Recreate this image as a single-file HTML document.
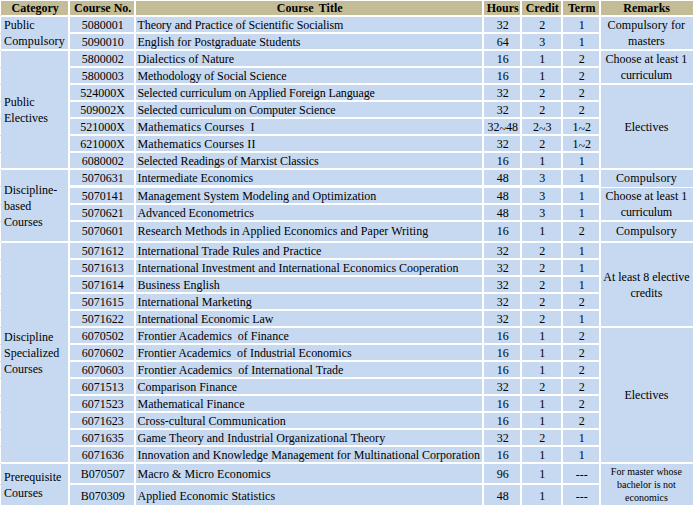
<!DOCTYPE html>
<html><head><meta charset="utf-8"><title>Courses</title>
<style>
html,body{margin:0;padding:0;background:#fff;}
body{width:693px;height:506px;position:relative;overflow:hidden;font-family:"Liberation Serif",serif;font-size:12px;color:#000;}
.c{position:absolute;display:flex;align-items:center;box-sizing:border-box;line-height:16px;white-space:nowrap;overflow:visible;}
.c.ctr{justify-content:center;text-align:center;padding-left:1.4px;}
.c.l{justify-content:flex-start;text-align:left;padding-left:1.5px;}
.c.cat{padding-left:3px;}
.c.h{justify-content:center;font-weight:bold;font-size:12px;padding-left:1.4px;padding-top:1.4px;}
.c.rem{padding-left:0;padding-right:1.2px;}
.c i{font-style:normal;position:relative;top:2px;}
.c b{font-weight:normal;position:relative;top:1.5px;}
.c.small{font-size:10px;line-height:13px;padding-top:0.4px;}
</style></head><body>
<div class="c h" style="left:1px;top:1px;width:67px;height:13.5px;background:#c4bc96;"><span>Category</span></div>
<div class="c h" style="left:70px;top:1px;width:64px;height:13.5px;background:#c4bc96;"><span>Course No.</span></div>
<div class="c h" style="left:136px;top:1px;width:346px;height:13.5px;background:#c4bc96;word-spacing:2.5px"><span>Course Title</span></div>
<div class="c h" style="left:484px;top:1px;width:36px;height:13.5px;background:#c4bc96;"><span>Hours</span></div>
<div class="c h" style="left:522px;top:1px;width:39px;height:13.5px;background:#c4bc96;"><span>Credit</span></div>
<div class="c h" style="left:563px;top:1px;width:36px;height:13.5px;background:#c4bc96;"><span>Term</span></div>
<div class="c h" style="left:601px;top:1px;width:92px;height:13.5px;background:#c4bc96;padding-left:0;padding-right:0.6px"><span>Remarks</span></div>
<div class="c ctr" style="left:70px;top:17px;width:64px;height:15px;background:#c6d9f1;"><span>5080001</span></div>
<div class="c l" style="left:136px;top:17px;width:346px;height:15px;background:#c6d9f1;letter-spacing:-0.071px"><span>Theory and Practice of Scientific Socialism</span></div>
<div class="c ctr" style="left:484px;top:17px;width:36px;height:15px;background:#c6d9f1;"><span>32</span></div>
<div class="c ctr" style="left:522px;top:17px;width:39px;height:15px;background:#c6d9f1;"><span>2</span></div>
<div class="c ctr" style="left:563px;top:17px;width:36px;height:15px;background:#c6d9f1;"><span>1</span></div>
<div class="c ctr" style="left:70px;top:34px;width:64px;height:15px;background:#c6d9f1;"><span>5090010</span></div>
<div class="c l" style="left:136px;top:34px;width:346px;height:15px;background:#c6d9f1;"><span>English for Postgraduate Students</span></div>
<div class="c ctr" style="left:484px;top:34px;width:36px;height:15px;background:#c6d9f1;"><span>64</span></div>
<div class="c ctr" style="left:522px;top:34px;width:39px;height:15px;background:#c6d9f1;"><span>3</span></div>
<div class="c ctr" style="left:563px;top:34px;width:36px;height:15px;background:#c6d9f1;"><span>1</span></div>
<div class="c ctr" style="left:70px;top:51px;width:64px;height:15px;background:#c6d9f1;"><span>5800002</span></div>
<div class="c l" style="left:136px;top:51px;width:346px;height:15px;background:#c6d9f1;"><span>Dialectics of Nature</span></div>
<div class="c ctr" style="left:484px;top:51px;width:36px;height:15px;background:#c6d9f1;"><span>16</span></div>
<div class="c ctr" style="left:522px;top:51px;width:39px;height:15px;background:#c6d9f1;"><span>1</span></div>
<div class="c ctr" style="left:563px;top:51px;width:36px;height:15px;background:#c6d9f1;"><span>2</span></div>
<div class="c ctr" style="left:70px;top:68px;width:64px;height:15px;background:#c6d9f1;"><span>5800003</span></div>
<div class="c l" style="left:136px;top:68px;width:346px;height:15px;background:#c6d9f1;letter-spacing:-0.071px"><span>Methodology of Social Science</span></div>
<div class="c ctr" style="left:484px;top:68px;width:36px;height:15px;background:#c6d9f1;"><span>16</span></div>
<div class="c ctr" style="left:522px;top:68px;width:39px;height:15px;background:#c6d9f1;"><span>1</span></div>
<div class="c ctr" style="left:563px;top:68px;width:36px;height:15px;background:#c6d9f1;"><span>2</span></div>
<div class="c ctr" style="left:70px;top:85px;width:64px;height:15px;background:#c6d9f1;"><span>524000X</span></div>
<div class="c l" style="left:136px;top:85px;width:346px;height:15px;background:#c6d9f1;letter-spacing:-0.120px"><span>Selected curriculum on Applied Foreign Language</span></div>
<div class="c ctr" style="left:484px;top:85px;width:36px;height:15px;background:#c6d9f1;"><span>32</span></div>
<div class="c ctr" style="left:522px;top:85px;width:39px;height:15px;background:#c6d9f1;"><span>2</span></div>
<div class="c ctr" style="left:563px;top:85px;width:36px;height:15px;background:#c6d9f1;"><span>2</span></div>
<div class="c ctr" style="left:70px;top:102px;width:64px;height:15px;background:#c6d9f1;"><span>509002X</span></div>
<div class="c l" style="left:136px;top:102px;width:346px;height:15px;background:#c6d9f1;letter-spacing:-0.116px"><span>Selected curriculum on Computer Science</span></div>
<div class="c ctr" style="left:484px;top:102px;width:36px;height:15px;background:#c6d9f1;"><span>32</span></div>
<div class="c ctr" style="left:522px;top:102px;width:39px;height:15px;background:#c6d9f1;"><span>2</span></div>
<div class="c ctr" style="left:563px;top:102px;width:36px;height:15px;background:#c6d9f1;"><span>2</span></div>
<div class="c ctr" style="left:70px;top:119px;width:64px;height:15px;background:#c6d9f1;"><span>521000X</span></div>
<div class="c l" style="left:136px;top:119px;width:346px;height:15px;background:#c6d9f1;letter-spacing:0.162px"><span>Mathematics Courses&nbsp; I</span></div>
<div class="c ctr" style="left:484px;top:119px;width:36px;height:15px;background:#c6d9f1;"><span>32<i>~</i>48</span></div>
<div class="c ctr" style="left:522px;top:119px;width:39px;height:15px;background:#c6d9f1;"><span>2<i>~</i>3</span></div>
<div class="c ctr" style="left:563px;top:119px;width:36px;height:15px;background:#c6d9f1;"><span>1<i>~</i>2</span></div>
<div class="c ctr" style="left:70px;top:136px;width:64px;height:15px;background:#c6d9f1;"><span>621000X</span></div>
<div class="c l" style="left:136px;top:136px;width:346px;height:15px;background:#c6d9f1;letter-spacing:0.157px"><span>Mathematics Courses II</span></div>
<div class="c ctr" style="left:484px;top:136px;width:36px;height:15px;background:#c6d9f1;"><span>32</span></div>
<div class="c ctr" style="left:522px;top:136px;width:39px;height:15px;background:#c6d9f1;"><span>2</span></div>
<div class="c ctr" style="left:563px;top:136px;width:36px;height:15px;background:#c6d9f1;"><span>1<i>~</i>2</span></div>
<div class="c ctr" style="left:70px;top:153px;width:64px;height:15px;background:#c6d9f1;"><span>6080002</span></div>
<div class="c l" style="left:136px;top:153px;width:346px;height:15px;background:#c6d9f1;letter-spacing:-0.075px"><span>Selected Readings of Marxist Classics</span></div>
<div class="c ctr" style="left:484px;top:153px;width:36px;height:15px;background:#c6d9f1;"><span>16</span></div>
<div class="c ctr" style="left:522px;top:153px;width:39px;height:15px;background:#c6d9f1;"><span>1</span></div>
<div class="c ctr" style="left:563px;top:153px;width:36px;height:15px;background:#c6d9f1;"><span>1</span></div>
<div class="c ctr" style="left:70px;top:170.2px;width:64px;height:15.300000000000011px;background:#c6d9f1;"><span>5070631</span></div>
<div class="c l" style="left:136px;top:170.2px;width:346px;height:15.300000000000011px;background:#c6d9f1;letter-spacing:-0.057px"><span>Intermediate Economics</span></div>
<div class="c ctr" style="left:484px;top:170.2px;width:36px;height:15.300000000000011px;background:#c6d9f1;"><span>48</span></div>
<div class="c ctr" style="left:522px;top:170.2px;width:39px;height:15.300000000000011px;background:#c6d9f1;"><span>3</span></div>
<div class="c ctr" style="left:563px;top:170.2px;width:36px;height:15.300000000000011px;background:#c6d9f1;"><span>1</span></div>
<div class="c ctr" style="left:70px;top:188px;width:64px;height:15px;background:#c6d9f1;"><span>5070141</span></div>
<div class="c l" style="left:136px;top:188px;width:346px;height:15px;background:#c6d9f1;letter-spacing:0.036px"><span>Management System Modeling and Optimization</span></div>
<div class="c ctr" style="left:484px;top:188px;width:36px;height:15px;background:#c6d9f1;"><span>48</span></div>
<div class="c ctr" style="left:522px;top:188px;width:39px;height:15px;background:#c6d9f1;"><span>3</span></div>
<div class="c ctr" style="left:563px;top:188px;width:36px;height:15px;background:#c6d9f1;"><span>1</span></div>
<div class="c ctr" style="left:70px;top:205px;width:64px;height:15px;background:#c6d9f1;"><span>5070621</span></div>
<div class="c l" style="left:136px;top:205px;width:346px;height:15px;background:#c6d9f1;letter-spacing:-0.065px"><span>Advanced Econometrics</span></div>
<div class="c ctr" style="left:484px;top:205px;width:36px;height:15px;background:#c6d9f1;"><span>48</span></div>
<div class="c ctr" style="left:522px;top:205px;width:39px;height:15px;background:#c6d9f1;"><span>3</span></div>
<div class="c ctr" style="left:563px;top:205px;width:36px;height:15px;background:#c6d9f1;"><span>1</span></div>
<div class="c ctr" style="left:70px;top:222px;width:64px;height:18.5px;background:#c6d9f1;"><span>5070601</span></div>
<div class="c l" style="left:136px;top:222px;width:346px;height:18.5px;background:#c6d9f1;letter-spacing:0.033px"><span>Research Methods in Applied Economics and Paper Writing</span></div>
<div class="c ctr" style="left:484px;top:222px;width:36px;height:18.5px;background:#c6d9f1;"><span>16</span></div>
<div class="c ctr" style="left:522px;top:222px;width:39px;height:18.5px;background:#c6d9f1;"><span>1</span></div>
<div class="c ctr" style="left:563px;top:222px;width:36px;height:18.5px;background:#c6d9f1;"><span>2</span></div>
<div class="c ctr" style="left:70px;top:243px;width:64px;height:15px;background:#c6d9f1;"><span>5071612</span></div>
<div class="c l" style="left:136px;top:243px;width:346px;height:15px;background:#c6d9f1;"><span>International Trade Rules and Practice</span></div>
<div class="c ctr" style="left:484px;top:243px;width:36px;height:15px;background:#c6d9f1;"><span>32</span></div>
<div class="c ctr" style="left:522px;top:243px;width:39px;height:15px;background:#c6d9f1;"><span>2</span></div>
<div class="c ctr" style="left:563px;top:243px;width:36px;height:15px;background:#c6d9f1;"><span>1</span></div>
<div class="c ctr" style="left:70px;top:260px;width:64px;height:15px;background:#c6d9f1;"><span>5071613</span></div>
<div class="c l" style="left:136px;top:260px;width:346px;height:15px;background:#c6d9f1;"><span>International Investment and International Economics Cooperation</span></div>
<div class="c ctr" style="left:484px;top:260px;width:36px;height:15px;background:#c6d9f1;"><span>32</span></div>
<div class="c ctr" style="left:522px;top:260px;width:39px;height:15px;background:#c6d9f1;"><span>2</span></div>
<div class="c ctr" style="left:563px;top:260px;width:36px;height:15px;background:#c6d9f1;"><span>1</span></div>
<div class="c ctr" style="left:70px;top:277px;width:64px;height:15px;background:#c6d9f1;"><span>5071614</span></div>
<div class="c l" style="left:136px;top:277px;width:346px;height:15px;background:#c6d9f1;"><span>Business English</span></div>
<div class="c ctr" style="left:484px;top:277px;width:36px;height:15px;background:#c6d9f1;"><span>32</span></div>
<div class="c ctr" style="left:522px;top:277px;width:39px;height:15px;background:#c6d9f1;"><span>2</span></div>
<div class="c ctr" style="left:563px;top:277px;width:36px;height:15px;background:#c6d9f1;"><span>1</span></div>
<div class="c ctr" style="left:70px;top:294px;width:64px;height:15px;background:#c6d9f1;"><span>5071615</span></div>
<div class="c l" style="left:136px;top:294px;width:346px;height:15px;background:#c6d9f1;"><span>International Marketing</span></div>
<div class="c ctr" style="left:484px;top:294px;width:36px;height:15px;background:#c6d9f1;"><span>32</span></div>
<div class="c ctr" style="left:522px;top:294px;width:39px;height:15px;background:#c6d9f1;"><span>2</span></div>
<div class="c ctr" style="left:563px;top:294px;width:36px;height:15px;background:#c6d9f1;"><span>2</span></div>
<div class="c ctr" style="left:70px;top:311px;width:64px;height:15px;background:#c6d9f1;"><span>5071622</span></div>
<div class="c l" style="left:136px;top:311px;width:346px;height:15px;background:#c6d9f1;letter-spacing:-0.052px"><span>International Economic Law</span></div>
<div class="c ctr" style="left:484px;top:311px;width:36px;height:15px;background:#c6d9f1;"><span>32</span></div>
<div class="c ctr" style="left:522px;top:311px;width:39px;height:15px;background:#c6d9f1;"><span>2</span></div>
<div class="c ctr" style="left:563px;top:311px;width:36px;height:15px;background:#c6d9f1;"><span>1</span></div>
<div class="c ctr" style="left:70px;top:328px;width:64px;height:15px;background:#c6d9f1;"><span>6070502</span></div>
<div class="c l" style="left:136px;top:328px;width:346px;height:15px;background:#c6d9f1;"><span>Frontier Academics&nbsp; of Finance</span></div>
<div class="c ctr" style="left:484px;top:328px;width:36px;height:15px;background:#c6d9f1;"><span>16</span></div>
<div class="c ctr" style="left:522px;top:328px;width:39px;height:15px;background:#c6d9f1;"><span>1</span></div>
<div class="c ctr" style="left:563px;top:328px;width:36px;height:15px;background:#c6d9f1;"><span>2</span></div>
<div class="c ctr" style="left:70px;top:345px;width:64px;height:15px;background:#c6d9f1;"><span>6070602</span></div>
<div class="c l" style="left:136px;top:345px;width:346px;height:15px;background:#c6d9f1;letter-spacing:-0.036px"><span>Frontier Academics&nbsp; of Industrial Economics</span></div>
<div class="c ctr" style="left:484px;top:345px;width:36px;height:15px;background:#c6d9f1;"><span>16</span></div>
<div class="c ctr" style="left:522px;top:345px;width:39px;height:15px;background:#c6d9f1;"><span>1</span></div>
<div class="c ctr" style="left:563px;top:345px;width:36px;height:15px;background:#c6d9f1;"><span>2</span></div>
<div class="c ctr" style="left:70px;top:362px;width:64px;height:15px;background:#c6d9f1;"><span>6070603</span></div>
<div class="c l" style="left:136px;top:362px;width:346px;height:15px;background:#c6d9f1;letter-spacing:0.022px"><span>Frontier Academics&nbsp; of International Trade</span></div>
<div class="c ctr" style="left:484px;top:362px;width:36px;height:15px;background:#c6d9f1;"><span>16</span></div>
<div class="c ctr" style="left:522px;top:362px;width:39px;height:15px;background:#c6d9f1;"><span>1</span></div>
<div class="c ctr" style="left:563px;top:362px;width:36px;height:15px;background:#c6d9f1;"><span>2</span></div>
<div class="c ctr" style="left:70px;top:379px;width:64px;height:15px;background:#c6d9f1;"><span>6071513</span></div>
<div class="c l" style="left:136px;top:379px;width:346px;height:15px;background:#c6d9f1;"><span>Comparison Finance</span></div>
<div class="c ctr" style="left:484px;top:379px;width:36px;height:15px;background:#c6d9f1;"><span>32</span></div>
<div class="c ctr" style="left:522px;top:379px;width:39px;height:15px;background:#c6d9f1;"><span>2</span></div>
<div class="c ctr" style="left:563px;top:379px;width:36px;height:15px;background:#c6d9f1;"><span>2</span></div>
<div class="c ctr" style="left:70px;top:396px;width:64px;height:15px;background:#c6d9f1;"><span>6071523</span></div>
<div class="c l" style="left:136px;top:396px;width:346px;height:15px;background:#c6d9f1;"><span>Mathematical Finance</span></div>
<div class="c ctr" style="left:484px;top:396px;width:36px;height:15px;background:#c6d9f1;"><span>16</span></div>
<div class="c ctr" style="left:522px;top:396px;width:39px;height:15px;background:#c6d9f1;"><span>1</span></div>
<div class="c ctr" style="left:563px;top:396px;width:36px;height:15px;background:#c6d9f1;"><span>2</span></div>
<div class="c ctr" style="left:70px;top:413px;width:64px;height:15px;background:#c6d9f1;"><span>6071623</span></div>
<div class="c l" style="left:136px;top:413px;width:346px;height:15px;background:#c6d9f1;"><span>Cross-cultural Communication</span></div>
<div class="c ctr" style="left:484px;top:413px;width:36px;height:15px;background:#c6d9f1;"><span>16</span></div>
<div class="c ctr" style="left:522px;top:413px;width:39px;height:15px;background:#c6d9f1;"><span>1</span></div>
<div class="c ctr" style="left:563px;top:413px;width:36px;height:15px;background:#c6d9f1;"><span>2</span></div>
<div class="c ctr" style="left:70px;top:430px;width:64px;height:15px;background:#c6d9f1;"><span>6071635</span></div>
<div class="c l" style="left:136px;top:430px;width:346px;height:15px;background:#c6d9f1;letter-spacing:0.015px"><span>Game Theory and Industrial Organizational Theory</span></div>
<div class="c ctr" style="left:484px;top:430px;width:36px;height:15px;background:#c6d9f1;"><span>32</span></div>
<div class="c ctr" style="left:522px;top:430px;width:39px;height:15px;background:#c6d9f1;"><span>2</span></div>
<div class="c ctr" style="left:563px;top:430px;width:36px;height:15px;background:#c6d9f1;"><span>1</span></div>
<div class="c ctr" style="left:70px;top:447px;width:64px;height:15px;background:#c6d9f1;"><span>6071636</span></div>
<div class="c l" style="left:136px;top:447px;width:346px;height:15px;background:#c6d9f1;"><span>Innovation and Knowledge Management for Multinational Corporation</span></div>
<div class="c ctr" style="left:484px;top:447px;width:36px;height:15px;background:#c6d9f1;"><span>16</span></div>
<div class="c ctr" style="left:522px;top:447px;width:39px;height:15px;background:#c6d9f1;"><span>1</span></div>
<div class="c ctr" style="left:563px;top:447px;width:36px;height:15px;background:#c6d9f1;"><span>1</span></div>
<div class="c ctr" style="left:70px;top:464px;width:64px;height:19px;background:#c6d9f1;"><span>B070507</span></div>
<div class="c l" style="left:136px;top:464px;width:346px;height:19px;background:#c6d9f1;letter-spacing:0.045px"><span>Macro &amp; Micro Economics</span></div>
<div class="c ctr" style="left:484px;top:464px;width:36px;height:19px;background:#c6d9f1;"><span>96</span></div>
<div class="c ctr" style="left:522px;top:464px;width:39px;height:19px;background:#c6d9f1;"><span>1</span></div>
<div class="c ctr" style="left:563px;top:464px;width:36px;height:19px;background:#c6d9f1;"><span><b>---</b></span></div>
<div class="c ctr" style="left:70px;top:485px;width:64px;height:19.5px;background:#c6d9f1;;padding-top:1.6px"><span>B070309</span></div>
<div class="c l" style="left:136px;top:485px;width:346px;height:19.5px;background:#c6d9f1;letter-spacing:0.035px;padding-top:1.6px"><span>Applied Economic Statistics</span></div>
<div class="c ctr" style="left:484px;top:485px;width:36px;height:19.5px;background:#c6d9f1;;padding-top:1.6px"><span>48</span></div>
<div class="c ctr" style="left:522px;top:485px;width:39px;height:19.5px;background:#c6d9f1;;padding-top:1.6px"><span>1</span></div>
<div class="c ctr" style="left:563px;top:485px;width:36px;height:19.5px;background:#c6d9f1;;padding-top:1.6px"><span><b>---</b></span></div>
<div class="c l cat" style="left:1px;top:17px;width:67px;height:32px;background:#c6d9f1;"><span>Public<br><span style="letter-spacing:0.16px">Compulsory</span></span></div>
<div class="c l cat" style="left:1px;top:51px;width:67px;height:117px;background:#c6d9f1;"><span>Public<br>Electives</span></div>
<div class="c l cat" style="left:1px;top:169.5px;width:67px;height:71.5px;background:#c6d9f1;padding-top:2px"><span>Discipline-<br>based<br>Courses</span></div>
<div class="c l cat" style="left:1px;top:242.5px;width:67px;height:219.5px;background:#c6d9f1;padding-top:2px"><span>Discipline<br>Specialized<br>Courses</span></div>
<div class="c l cat" style="left:1px;top:463.5px;width:67px;height:41.0px;background:#c6d9f1;padding-top:2px"><span>Prerequisite<br>Courses</span></div>
<div class="c ctr rem " style="left:601px;top:17px;width:92px;height:32px;background:#c6d9f1;"><span><span style="letter-spacing:0.09px">Compulsory for</span><br>masters</span></div>
<div class="c ctr rem " style="left:601px;top:51px;width:92px;height:32px;background:#c6d9f1;"><span>Choose at least 1<br><span style="letter-spacing:-0.15px">curriculum</span></span></div>
<div class="c ctr rem " style="left:601px;top:85px;width:92px;height:83px;background:#c6d9f1;"><span>Electives</span></div>
<div class="c ctr rem " style="left:601px;top:169.5px;width:92px;height:17.19999999999999px;background:#c6d9f1;"><span><span style="letter-spacing:0.16px">Compulsory</span></span></div>
<div class="c ctr rem " style="left:601px;top:188px;width:92px;height:32px;background:#c6d9f1;"><span>Choose at least 1<br><span style="letter-spacing:-0.15px">curriculum</span></span></div>
<div class="c ctr rem " style="left:601px;top:222px;width:92px;height:18.5px;background:#c6d9f1;"><span><span style="letter-spacing:0.16px">Compulsory</span></span></div>
<div class="c ctr rem " style="left:601px;top:243px;width:92px;height:83px;background:#c6d9f1;"><span>At least 8 elective<br>credits</span></div>
<div class="c ctr rem " style="left:601px;top:328px;width:92px;height:134px;background:#c6d9f1;"><span>Electives</span></div>
<div class="c ctr rem small" style="left:601px;top:463.5px;width:92px;height:41.0px;background:#c6d9f1;"><span>For master whose<br>bachelor is not<br>economics</span></div>
<div style="position:absolute;left:0;top:15.0px;width:1px;height:1px;background:#dcdcdc"></div>
<div style="position:absolute;left:0;top:32.5px;width:1px;height:1px;background:#dcdcdc"></div>
<div style="position:absolute;left:0;top:49.5px;width:1px;height:1px;background:#dcdcdc"></div>
<div style="position:absolute;left:0;top:66.5px;width:1px;height:1px;background:#dcdcdc"></div>
<div style="position:absolute;left:0;top:83.5px;width:1px;height:1px;background:#dcdcdc"></div>
<div style="position:absolute;left:0;top:100.5px;width:1px;height:1px;background:#dcdcdc"></div>
<div style="position:absolute;left:0;top:117.5px;width:1px;height:1px;background:#dcdcdc"></div>
<div style="position:absolute;left:0;top:134.5px;width:1px;height:1px;background:#dcdcdc"></div>
<div style="position:absolute;left:0;top:151.5px;width:1px;height:1px;background:#dcdcdc"></div>
<div style="position:absolute;left:0;top:168.6px;width:1px;height:1px;background:#dcdcdc"></div>
<div style="position:absolute;left:0;top:186.2px;width:1px;height:1px;background:#dcdcdc"></div>
<div style="position:absolute;left:0;top:203.5px;width:1px;height:1px;background:#dcdcdc"></div>
<div style="position:absolute;left:0;top:220.5px;width:1px;height:1px;background:#dcdcdc"></div>
<div style="position:absolute;left:0;top:241.2px;width:1px;height:1px;background:#dcdcdc"></div>
<div style="position:absolute;left:0;top:258.5px;width:1px;height:1px;background:#dcdcdc"></div>
<div style="position:absolute;left:0;top:275.5px;width:1px;height:1px;background:#dcdcdc"></div>
<div style="position:absolute;left:0;top:292.5px;width:1px;height:1px;background:#dcdcdc"></div>
<div style="position:absolute;left:0;top:309.5px;width:1px;height:1px;background:#dcdcdc"></div>
<div style="position:absolute;left:0;top:326.5px;width:1px;height:1px;background:#dcdcdc"></div>
<div style="position:absolute;left:0;top:343.5px;width:1px;height:1px;background:#dcdcdc"></div>
<div style="position:absolute;left:0;top:360.5px;width:1px;height:1px;background:#dcdcdc"></div>
<div style="position:absolute;left:0;top:377.5px;width:1px;height:1px;background:#dcdcdc"></div>
<div style="position:absolute;left:0;top:394.5px;width:1px;height:1px;background:#dcdcdc"></div>
<div style="position:absolute;left:0;top:411.5px;width:1px;height:1px;background:#dcdcdc"></div>
<div style="position:absolute;left:0;top:428.5px;width:1px;height:1px;background:#dcdcdc"></div>
<div style="position:absolute;left:0;top:445.5px;width:1px;height:1px;background:#dcdcdc"></div>
<div style="position:absolute;left:0;top:462.5px;width:1px;height:1px;background:#dcdcdc"></div>
<div style="position:absolute;left:0;top:483.5px;width:1px;height:1px;background:#dcdcdc"></div>
</body></html>
